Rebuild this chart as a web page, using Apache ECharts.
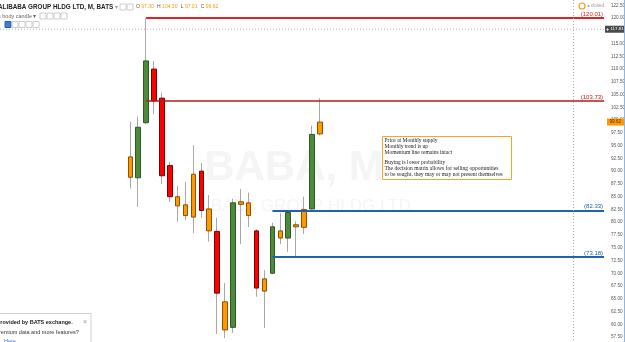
<!DOCTYPE html>
<html><head><meta charset="utf-8">
<script src="https://cdn.jsdelivr.net/npm/echarts@6/dist/echarts.min.js"></script>
<style>html,body{margin:0;padding:0;background:#fff;overflow:hidden}#c{width:625px;height:342px}</style>
</head><body><div id="c"></div>
<script>
// ---- data ----
const months = ['Sep 2014','Oct 2014','Nov 2014','Dec 2014','Jan 2015','Feb 2015','Mar 2015','Apr 2015','May 2015','Jun 2015','Jul 2015','Aug 2015','Sep 2015','Oct 2015','Nov 2015','Dec 2015','Jan 2016','Feb 2016','Mar 2016','Apr 2016','May 2016','Jun 2016','Jul 2016','Aug 2016','Sep 2016'];
const openV  = [92.8, 88.7, 99.5, 110.0, 104.3, 91.1, 85.0, 83.4, 81.0, 90.0, 82.6, 78.2, 64.4, 59.4, 83.5, 83.8, 78.3, 66.5, 70.0, 78.3, 76.9, 79.1, 79.0, 82.6, 97.30];
const closeV = [88.8, 98.6, 111.6, 103.8, 89.1, 85.0, 83.2, 81.3, 89.4, 82.3, 78.3, 66.1, 58.9, 83.8, 84.0, 81.3, 67.1, 68.9, 79.1, 76.9, 81.9, 79.5, 82.5, 97.2, 99.62];
const lowV   = [86.6, 83.0, 99.2, 101.2, 87.5, 84.0, 80.1, 80.4, 77.9, 80.9, 76.2, 58.1, 57.3, 58.3, 75.7, 79.1, 65.4, 59.3, 69.8, 75.7, 74.2, 73.18, 77.7, 82.5, 97.01];
const highV  = [99.7, 100.7, 120.0, 111.6, 105.4, 91.8, 87.1, 87.9, 95.1, 91.6, 85.3, 80.9, 68.1, 84.6, 86.5, 85.8, 78.6, 70.6, 79.9, 81.8, 82.0, 80.2, 85.0, 98.9, 104.30];
const bodyType = ['o','g','g','r','r','r','o','o','o','r','o','r','o','g','o','o','r','o','g','o','g','o','o','g','o'];
const levels = [120.01, 103.73, 82.33, 73.18];
const levelStart = [18.0, 18.3, 34.0, 34.33];
const levelColor = ['#e02424', '#b31b1b', '#2462a8', '#2462a8'];
const padLeft = 16, padRight = 36;
const crossValue = 117.81;
const noteLines = ['Price at Monthly supply','Monthly trend is up','Momentum line remains intact','','Buying is lower probability','The decision matrix allows for selling opportunities','to be sought, they may or may not present themselves'];

// ---- build ----
const palette = {
  g: {fill: '#4b8b3b', border: '#2c5a22'},
  r: {fill: '#ff0000', border: '#7a0000'},
  o: {fill: '#ff9900', border: '#8a5200'}
};
const cats = Array(padLeft).fill('').concat(months).concat(Array(padRight).fill(''));
const pre = Array(padLeft).fill('-'), post = Array(padRight).fill('-');
const wickData = pre.concat(months.map((m, i) => [openV[i], closeV[i], lowV[i], highV[i]])).concat(post);
const bodyData = pre.concat(months.map((m, i) => {
  const p = palette[bodyType[i]];
  return {
    value: [openV[i], closeV[i], Math.min(openV[i], closeV[i]), Math.max(openV[i], closeV[i])],
    itemStyle: {color: p.fill, color0: p.fill, borderColor: p.border, borderColor0: p.border}
  };
})).concat(post);
const lastIdx = cats.length - 1;
const markData = levels.map((lv, i) => [
  {coord: [levelStart[i], lv], lineStyle: {color: levelColor[i], width: i === 1 ? 1.5 : 2},
   label: {color: levelColor[i], formatter: '(' + lv.toFixed(2) + ')'}},
  {coord: [lastIdx, lv]}
]);

const chart = echarts.init(document.getElementById('c'), null, {renderer: 'canvas'});
chart.setOption({
  animation: false,
  backgroundColor: '#ffffff',
  grid: {left: 0, right: 17, top: -7.47, bottom: -7.81, outerBoundsMode: 'none', containLabel: false},
  xAxis: {type: 'category', data: cats, boundaryGap: true, show: false},
  yAxis: {
    type: 'value', position: 'right', min: 55, max: 125, interval: 2.5,
    axisLine: {show: false}, axisTick: {show: false}, splitLine: {show: false},
    axisLabel: {margin: 3, fontSize: 4.6, color: '#555', fontFamily: 'Arial, Liberation Sans',
      formatter: v => v.toFixed(2)}
  },
  series: [
    {
      type: 'candlestick', data: wickData, barWidth: 1, silent: true,
      itemStyle: {color: '#a8a8a8', color0: '#a8a8a8', borderColor: '#a8a8a8', borderColor0: '#a8a8a8', borderWidth: 1},
      markLine: {
        silent: true, symbol: 'none', animation: false,
        label: {show: true, position: 'insideEndTop', distance: 1, fontSize: 6, fontFamily: 'Arial, Liberation Sans'},
        lineStyle: {type: 'solid'},
        data: markData
      }
    },
    {
      type: 'candlestick', data: bodyData, barWidth: 5, silent: true,
      itemStyle: {borderWidth: 1}
    }
  ]
});

// overlays
const yCross = chart.convertToPixel({yAxisIndex: 0}, crossValue);
const yLast = chart.convertToPixel({yAxisIndex: 0}, closeV[closeV.length - 1]);
const g = [];
// watermark
g.push({type: 'text', z: -10, style: {text: 'BABA, M', x: 294, y: 168, align: 'center', verticalAlign: 'middle',
  font: 'bold 42px Arial, Liberation Sans', fill: '#f5f5f5'}});
g.push({type: 'text', z: -10, style: {text: 'ALIBABA GROUP HLDG LTD', x: 298, y: 206, align: 'center', verticalAlign: 'middle',
  font: '17px Arial, Liberation Sans', fill: '#f5f5f5'}});
// crosshair
g.push({type: 'line', z: 50, shape: {x1: 0, y1: yCross, x2: 606, y2: yCross}, style: {stroke: '#b0b0b0', lineWidth: 1, lineDash: [1, 2]}});
g.push({type: 'line', z: 50, shape: {x1: 573.5, y1: 0, x2: 573.5, y2: 342}, style: {stroke: '#b0b0b0', lineWidth: 1, lineDash: [1, 2]}});
g.push({type: 'rect', z: 60, shape: {x: 605, y: yCross - 3.5, width: 19, height: 7}, style: {fill: '#4a4a4a'}});
g.push({type: 'text', z: 61, style: {text: '+', x: 606, y: yCross, verticalAlign: 'middle', font: 'bold 5.5px Arial', fill: '#fff'}});
g.push({type: 'text', z: 61, style: {text: crossValue.toFixed(2), x: 610.5, y: yCross, verticalAlign: 'middle', font: '4.4px Arial, Liberation Sans', fill: '#fff'}});
// last price box
g.push({type: 'rect', z: 60, shape: {x: 607, y: yLast - 3.5, width: 17, height: 7}, style: {fill: '#ff9900'}});
g.push({type: 'text', z: 61, style: {text: closeV[closeV.length - 1].toFixed(2), x: 609.5, y: yLast, verticalAlign: 'middle', font: '4.6px Arial, Liberation Sans', fill: '#5a3000'}});
// right edge line
g.push({type: 'line', z: 60, shape: {x1: 624.5, y1: 0, x2: 624.5, y2: 342}, style: {stroke: '#8ab8e6', lineWidth: 1}});
// header
g.push({type: 'text', z: 60, style: {text: 'ALIBABA GROUP HLDG LTD, M, BATS', x: -2, y: 7, verticalAlign: 'middle', font: '600 6.3px Arial, Liberation Sans', fill: '#222'}});
g.push({type: 'text', z: 60, style: {text: '\u25BE', x: 115, y: 7, verticalAlign: 'middle', font: '6px Arial', fill: '#999'}});
[120, 127].forEach(x => g.push({type: 'rect', z: 60, shape: {x: x, y: 4, width: 6, height: 6}, style: {fill: '#fff', stroke: '#ccc', lineWidth: 1}}));
const ohlc = [['O', openV], ['H', highV], ['L', lowV], ['C', closeV]];
const rich = {k: {fill: '#555', font: '5px Arial, Liberation Sans'}, v: {fill: '#f39c12', font: '5px Arial, Liberation Sans'}};
g.push({type: 'text', z: 60, style: {
  text: ohlc.map(([k, arr]) => '{k|' + k + ' }{v|' + arr[arr.length - 1].toFixed(2) + '} ').join(''),
  x: 136, y: 7, verticalAlign: 'middle', rich: rich}});
g.push({type: 'text', z: 60, style: {text: 's body candle \u25BE', x: -2, y: 16, verticalAlign: 'middle', font: '5.5px Arial, Liberation Sans', fill: '#666'}});
[40, 47, 54, 61].forEach(x => g.push({type: 'rect', z: 60, shape: {x: x, y: 13, width: 6, height: 6}, style: {fill: '#fff', stroke: '#ccc', lineWidth: 1}}));
g.push({type: 'rect', z: 60, shape: {x: 5, y: 21.5, width: 6, height: 6}, style: {fill: '#3b7dd8', stroke: '#2a5ea8', lineWidth: 1}});
[12, 19, 26, 33].forEach(x => g.push({type: 'rect', z: 60, shape: {x: x, y: 21.5, width: 6, height: 6}, style: {fill: '#fff', stroke: '#ccc', lineWidth: 1}}));
// market status
g.push({type: 'circle', z: 60, shape: {cx: 582, cy: 6, r: 3}, style: {fill: '#fff', stroke: '#f39c12', lineWidth: 1.2}});
g.push({type: 'circle', z: 60, shape: {cx: 588.5, cy: 6, r: 1}, style: {fill: '#999'}});
g.push({type: 'text', z: 60, style: {text: 'closed', x: 591, y: 6, verticalAlign: 'middle', font: '4.5px Arial, Liberation Sans', fill: '#999'}});
// annotation box
g.push({type: 'rect', z: 70, shape: {x: 382.5, y: 136.5, width: 129, height: 43}, style: {fill: '#ffffff', stroke: '#f5a623', lineWidth: 1}});
const noteY = [140.5, 146.5, 152.5, 0, 163, 169, 175];
noteLines.forEach((t, i) => { if (t) g.push({type: 'text', z: 71, style: {text: t, x: 384.5, y: noteY[i], verticalAlign: 'middle', font: '5.5px Liberation Serif, DejaVu Serif', fill: '#1a1a1a'}}); });
// bottom-left popup
g.push({type: 'rect', z: 80, shape: {x: -2, y: 313.5, width: 93, height: 32}, style: {fill: '#ffffff', stroke: '#d0d0d0', lineWidth: 1}});
g.push({type: 'text', z: 81, style: {text: 'provided by BATS exchange.', x: -3, y: 322.5, verticalAlign: 'middle', font: 'bold 5.5px Arial, Liberation Sans', fill: '#222'}});
g.push({type: 'text', z: 81, style: {text: '\u00D7', x: 83, y: 322, verticalAlign: 'middle', font: '7px Arial', fill: '#999'}});
g.push({type: 'text', z: 81, style: {text: 'remium data and more features?', x: -1, y: 332, verticalAlign: 'middle', font: '5.5px Arial, Liberation Sans', fill: '#333'}});
g.push({type: 'text', z: 81, style: {text: 'Here', x: 4, y: 341, verticalAlign: 'middle', font: '5.5px Arial, Liberation Sans', fill: '#2a7de1'}});
chart.setOption({graphic: {elements: g}});
</script></body></html>
